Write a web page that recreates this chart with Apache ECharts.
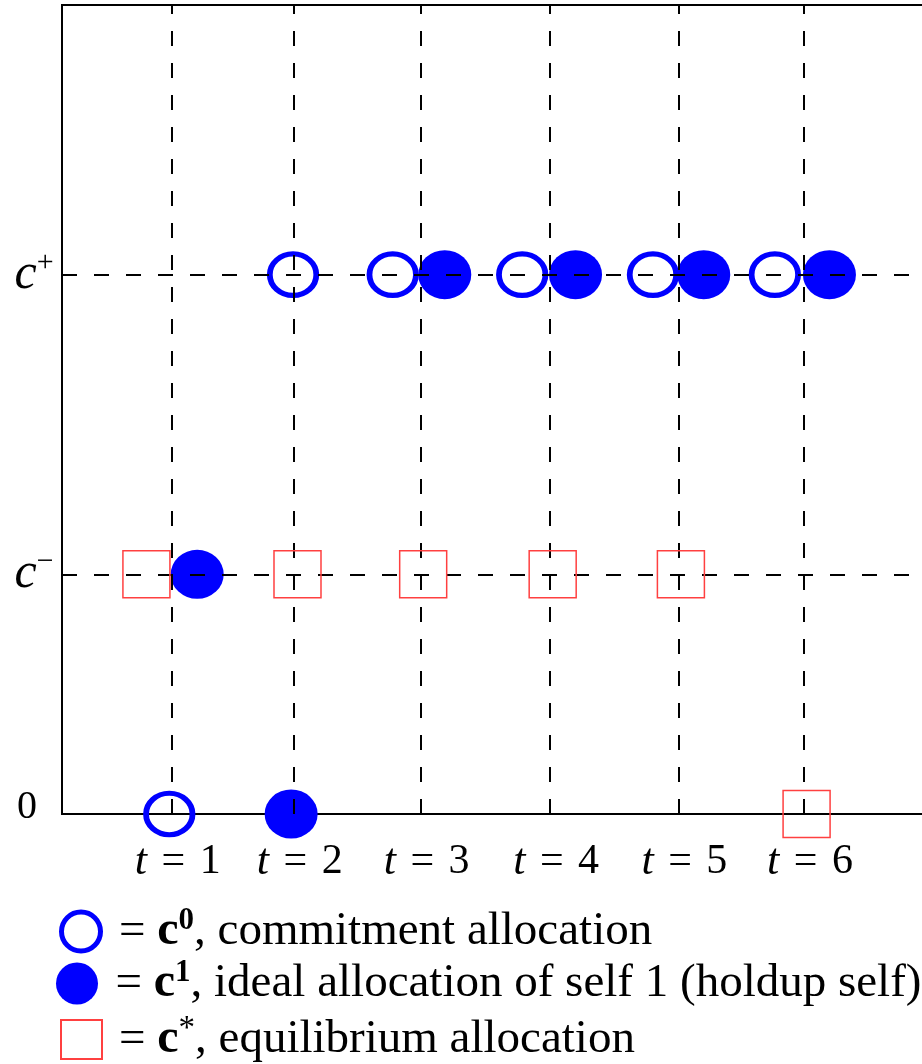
<!DOCTYPE html>
<html>
<head>
<meta charset="utf-8">
<script src="https://cdn.jsdelivr.net/npm/echarts@6/dist/echarts.min.js"></script>
<style>
  html, body { margin: 0; padding: 0; background: #fff; }
  #chart { width: 922px; height: 1064px; }
</style>
</head>
<body>
<div id="chart"></div>
<script>
// positions of the dashed period lines (t = 1..6)
const periodT = [1.02, 1.98, 2.98, 4.0, 5.01, 6.0];
const periodLabels = ['1', '2', '3', '4', '5', '6'];

// consumption levels: 0, c-, c+
const levelValues = [0, 0.8, 1.8];
const levelLabels = ['{n|0}', '{i|c}{sup|\u2212}', '{i|c}{sup|+}'];
const dashedLevels = [0.8, 1.8];

// [t, level]
const commitment = [[1.0, 0], [1.975, 1.8], [2.76, 1.8], [3.78, 1.8], [4.81, 1.8], [5.77, 1.8]];
const holdup = [[1.22, 0.8], [1.96, 0], [3.17, 1.8], [4.2, 1.8], [5.21, 1.8], [6.2, 1.8]];
const equilibrium = [[0.82, 0.8], [2.01, 0.8], [3.0, 0.8], [4.02, 0.8], [5.03, 0.8], [6.02, 0]];

const legendNames = ['c0', 'c1', 'cstar'];
const legendTexts = [
  '{r|= }{b|c}{bsup|0}{r|, commitment allocation}',
  '{r|= }{b|c}{bsup|1}{r|, ideal allocation of self 1 (holdup self)}',
  '{r|= }{b|c}{sup|*}{r|, equilibrium allocation}'
];

const SERIF = '"Liberation Serif", "DejaVu Serif", serif';
const BLUE = '#0000ff';
const RED = '#ff4040';

const chart = echarts.init(document.getElementById('chart'));

const dashStyle = { color: '#000', width: 2, type: [15, 17] };

const legendRich = {
  r: { fontFamily: SERIF, fontSize: 47, color: '#000' },
  b: { fontFamily: SERIF, fontSize: 48, fontWeight: 'bold', color: '#000' },
  bsup: { fontFamily: SERIF, fontSize: 31, fontWeight: 'bold', color: '#000', padding: [0, 0, 22, 0] },
  sup: { fontFamily: SERIF, fontSize: 33, color: '#000', padding: [0, 0, 20, 0] }
};

function makeLegend(i, left, top, w, h, pad, itemStyle) {
  const legend = {
    orient: 'vertical',
    left: left,
    top: top,
    padding: 0,
    itemWidth: w,
    itemHeight: h,
    data: [legendNames[i]],
    selectedMode: false,
    formatter: () => legendTexts[i],
    textStyle: {
      fontFamily: SERIF,
      fontSize: 47,
      color: '#000',
      padding: [0, 0, 0, pad],
      rich: legendRich
    }
  };
  if (itemStyle) legend.itemStyle = itemStyle;
  return legend;
}

const option = {
  backgroundColor: '#fff',
  animation: false,
  grid: {
    left: 62,
    top: 5,
    width: 869,
    height: 809,
    show: true,
    borderColor: '#000',
    borderWidth: 2,
    outerBoundsMode: 'none'
  },
  xAxis: {
    type: 'value',
    min: 0.155,
    max: 7,
    axisLine: { show: false },
    axisTick: { show: false },
    splitLine: { show: false },
    axisLabel: {
      customValues: periodT,
      margin: 26,
      padding: [0, 0, 0, 12],
      fontFamily: SERIF,
      fontSize: 42,
      color: '#000',
      formatter: (v) => {
        const i = periodT.indexOf(v);
        return '{i|t} {e|=} ' + (i >= 0 ? periodLabels[i] : '');
      },
      rich: {
        i: { fontStyle: 'italic', fontFamily: SERIF, fontSize: 44 },
        e: { fontFamily: SERIF, fontSize: 42, padding: [0, 4, 0, 4] }
      }
    }
  },
  yAxis: {
    type: 'value',
    min: 0,
    max: 2.7,
    axisLine: { show: false },
    axisTick: { show: false },
    splitLine: { show: false },
    axisLabel: {
      customValues: levelValues,
      margin: 28,
      align: 'center',
      fontFamily: SERIF,
      fontSize: 40,
      color: '#000',
      formatter: (v) => {
        const i = levelValues.indexOf(v);
        return i >= 0 ? levelLabels[i] : '';
      },
      rich: {
        n: { fontFamily: SERIF, fontSize: 40, padding: [0, 14, 14, 0] },
        i: { fontStyle: 'italic', fontFamily: SERIF, fontSize: 50 },
        sup: { fontFamily: SERIF, fontSize: 30, padding: [0, 0, 24, 0] }
      }
    }
  },
  legend: [
    makeLegend(0, 59, 905, 40, 39, 13, { borderWidth: 5, borderColor: BLUE, color: 'rgba(255,255,255,0)' }),
    makeLegend(1, 56, 957, 45, 42, 11),
    makeLegend(2, 60, 1013, 41, 39, 12)
  ],
  series: [
    {
      name: 'grid',
      type: 'line',
      data: [],
      z: 1,
      silent: true,
      markLine: {
        silent: true,
        symbol: 'none',
        label: { show: false },
        lineStyle: dashStyle,
        data: periodT.map(t => ({ xAxis: t }))
          .concat(dashedLevels.map(c => ({ yAxis: c })))
      }
    },
    {
      name: 'c0',
      type: 'scatter',
      z: 3,
      symbol: 'circle',
      symbolSize: [46.5, 41.5],
      itemStyle: { color: 'rgba(255,255,255,0)', borderColor: BLUE, borderWidth: 5.5, opacity: 1 },
      data: commitment
    },
    {
      name: 'c1',
      type: 'scatter',
      z: 4,
      symbol: 'circle',
      symbolSize: [53, 49],
      itemStyle: { color: BLUE, opacity: 1 },
      data: holdup
    },
    {
      name: 'cstar',
      type: 'scatter',
      z: 5,
      symbol: 'rect',
      symbolSize: 47,
      itemStyle: { color: 'rgba(255,255,255,0)', borderColor: RED, borderWidth: 1.5, opacity: 1 },
      data: equilibrium
    }
  ]
};

chart.setOption(option);
</script>
</body>
</html>
